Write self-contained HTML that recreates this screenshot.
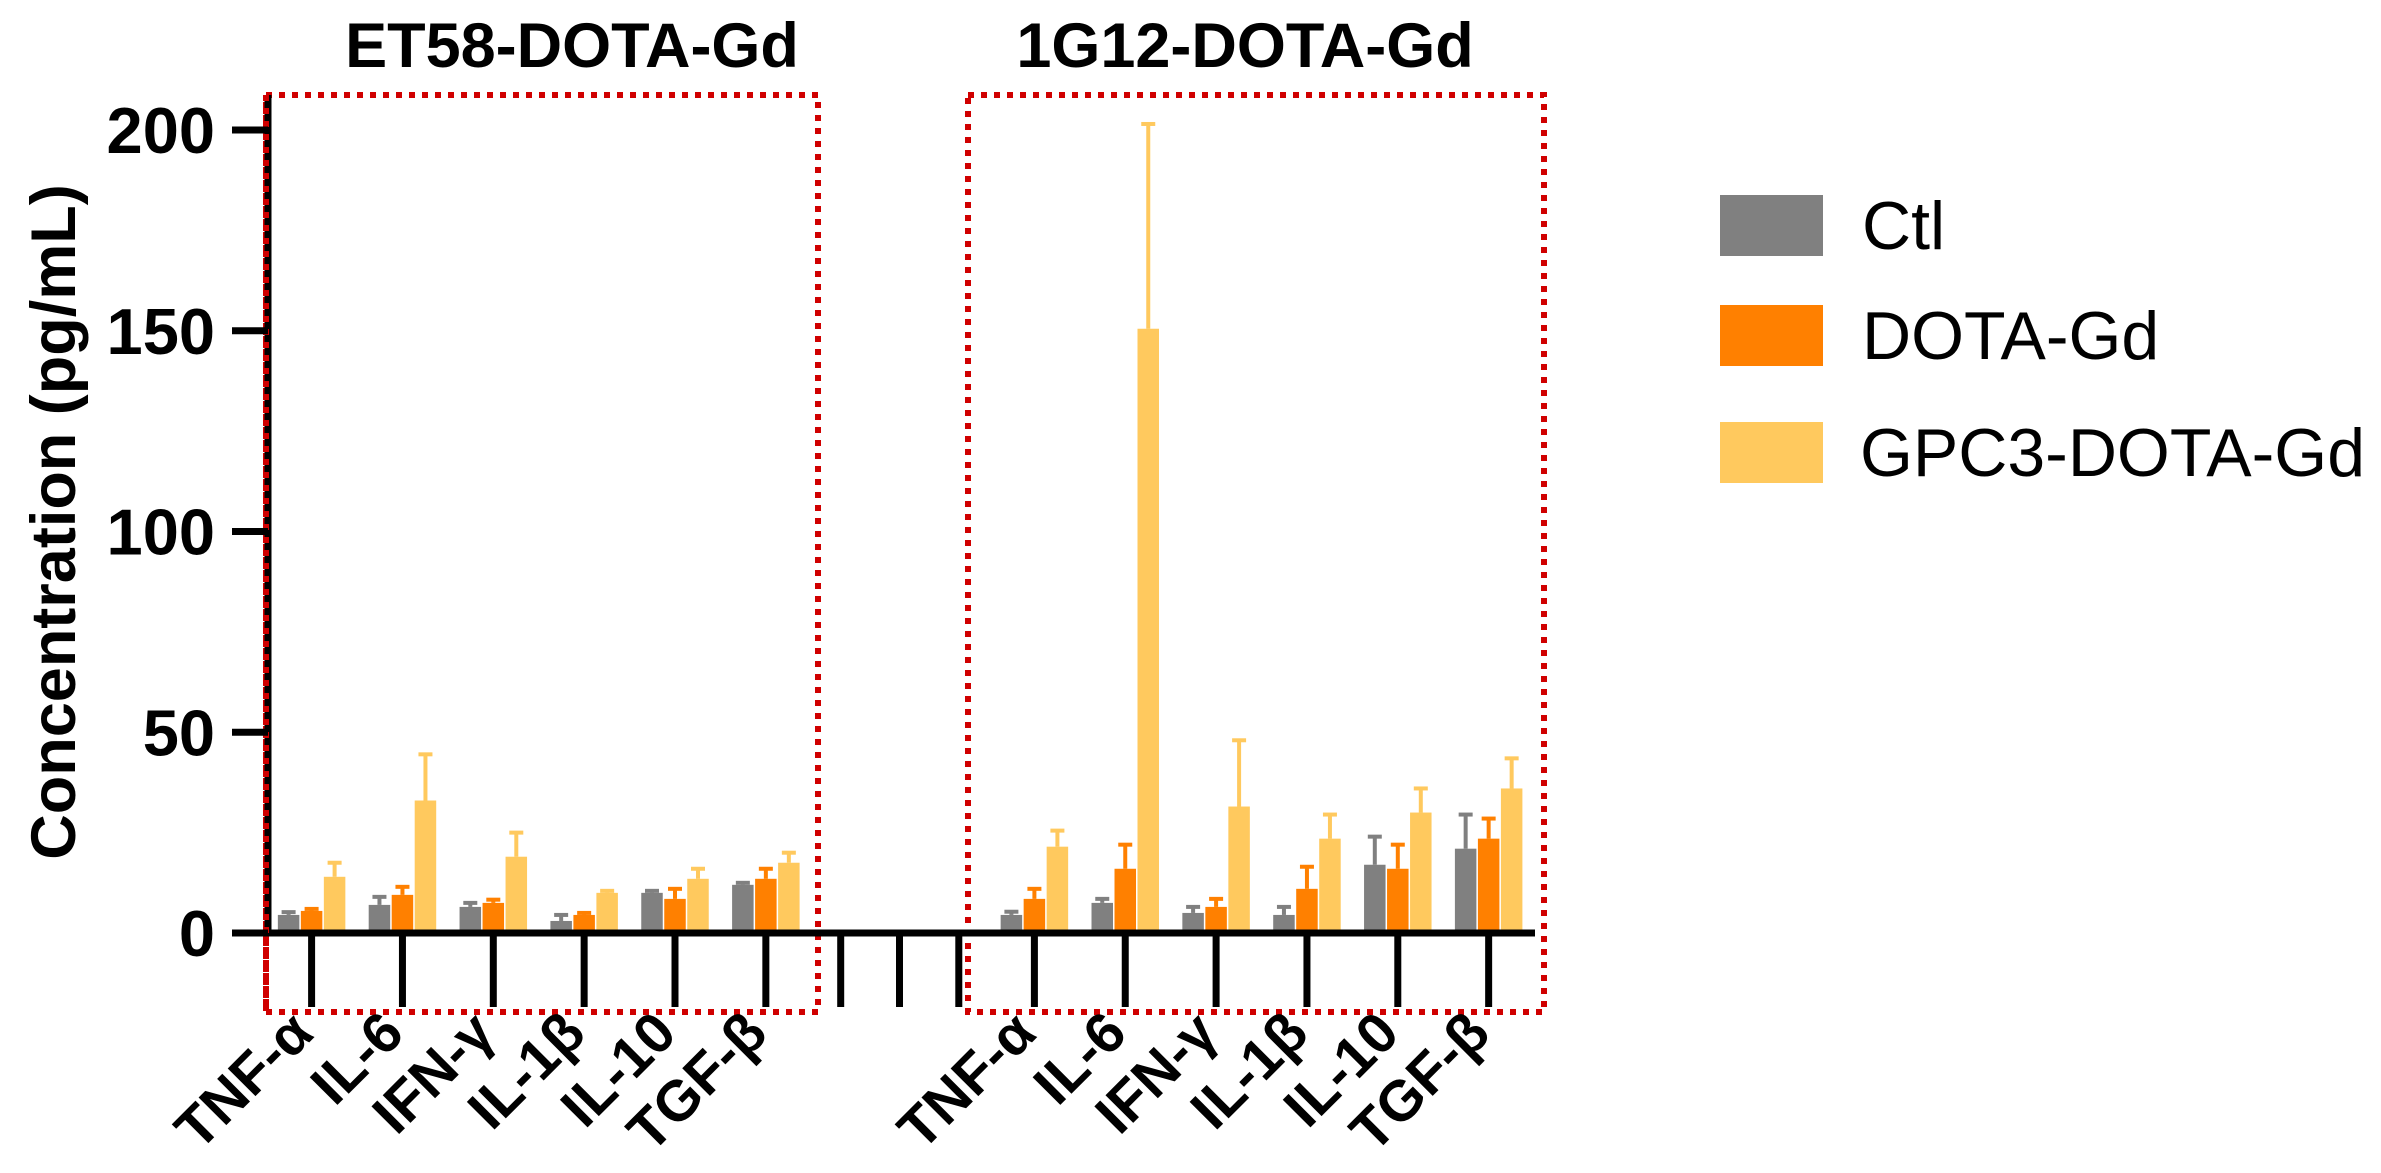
<!DOCTYPE html>
<html><head><meta charset="utf-8">
<style>
html,body{margin:0;padding:0;background:#fff;}
svg{display:block;font-family:"Liberation Sans",Arial,sans-serif;}
</style></head>
<body>
<svg id="chart" width="2381" height="1173" viewBox="0 0 2381 1173" xmlns="http://www.w3.org/2000/svg">
  <g id="boxes"></g>
  <g id="bars"></g>
  <g id="axes"></g>
  <g id="labels"></g>
  <text x="572" y="67" font-size="63" font-weight="bold" text-anchor="middle">ET58-DOTA-Gd</text>
  <text x="1245" y="67" font-size="63" font-weight="bold" text-anchor="middle">1G12-DOTA-Gd</text>
  <text transform="translate(75,522) rotate(-90)" font-size="63" font-weight="bold" text-anchor="middle">Concentration (pg/mL)</text>
  <g>
    <rect x="1720" y="195" width="103" height="61" fill="#808080"/>
    <text x="1862" y="249" font-size="68">Ctl</text>
    <rect x="1720" y="305" width="103" height="61" fill="#FF8000"/>
    <text x="1862" y="359" font-size="68">DOTA-Gd</text>
    <rect x="1720" y="422" width="103" height="61" fill="#FFC95E"/>
    <text x="1860" y="476" font-size="68">GPC3-DOTA-Gd</text>
  </g>
</svg>
<script>
// ---- data ----
const categories = ["TNF-α","IL-6","IFN-γ","IL-1β","IL-10","TGF-β"];
const groups = ["ET58-DOTA-Gd","1G12-DOTA-Gd"];
const seriesNames = ["Ctl","DOTA-Gd","GPC3-DOTA-Gd"];
// values [group][category]
const ctlMean = [[4.5,7,6.5,3,10,12],[4.5,7.5,5,4.5,17,21]];
const ctlErr  = [[0.7,2,1,1.5,0.5,0.5],[0.8,1,1.5,2,7,8.5]];
const dotaMean = [[5.5,9.5,7.5,4.5,8.5,13.5],[8.5,16,6.5,11,16,23.5]];
const dotaErr  = [[0.5,2,0.8,0.5,2.5,2.5],[2.5,6,2,5.5,6,5]];
const gpcMean = [[14,33,19,10,13.5,17.5],[21.5,150.5,31.5,23.5,30,36]];
const gpcErr  = [[3.5,11.5,6,0.5,2.5,2.5],[4,51,16.5,6,6,7.5]];
const yTicks = [0,50,100,150,200];

const colors = ["#808080","#FF8000","#FFC95E"];
const NS = "http://www.w3.org/2000/svg";
function mk(tag, attrs, parent){const e=document.createElementNS(NS,tag);for(const k in attrs)e.setAttribute(k,attrs[k]);parent.appendChild(e);return e;}

// ---- axis functions ----
const y0 = 933, pxPerUnit = 4.015;
function yScale(v){return y0 - v*pxPerUnit;}
const groupStart = [311.6, 1034.4], catStep = 90.85;
function xScale(g,i){return groupStart[g] + catStep*i;}
const gapTicks = [840.7, 899.5, 958.8];
const barW = 21.5, barOff = 23;

const boxes = document.getElementById("boxes");
const bars = document.getElementById("bars");
const axes = document.getElementById("axes");
const labels = document.getElementById("labels");

const b1 = mk("rect",{x:266,y:95,width:552,height:917,fill:"none",stroke:"#D00000","stroke-width":6,"stroke-dasharray":"6 7"},boxes);


const b2 = mk("rect",{x:968,y:95,width:576,height:917,fill:"none",stroke:"#D00000","stroke-width":6,"stroke-dasharray":"6 7"},boxes);



const means=[ctlMean,dotaMean,gpcMean], errs=[ctlErr,dotaErr,gpcErr];
for(let g=0;g<groups.length;g++){
  for(let i=0;i<categories.length;i++){
    for(let s=0;s<3;s++){
      const cx = xScale(g,i) + (s-1)*barOff;
      const m = means[s][g][i], e = errs[s][g][i];
      const top = yScale(m+e);
      const ln = mk("line",{x1:cx,x2:cx,y1:yScale(m),y2:top,stroke:colors[s],"stroke-width":4},bars);
      
      
      const cap = mk("line",{x1:cx-7,x2:cx+7,y1:top,y2:top,stroke:colors[s],"stroke-width":4},bars);
      
      
      const r = mk("rect",{x:cx-barW/2,y:yScale(m),width:barW,height:y0-yScale(m),fill:colors[s]},bars);
      
      
    }
  }
}

const ya = mk("line",{x1:268,x2:268,y1:95,y2:936.5,stroke:"#000","stroke-width":7},axes);


const xa = mk("line",{x1:232,x2:1535,y1:y0,y2:y0,stroke:"#000","stroke-width":7},axes);


const ld = mk("line",{x1:266,x2:266,y1:95,y2:1012,stroke:"#D00000","stroke-width":6,"stroke-dasharray":"6 7"},axes);



yTicks.forEach(v=>{
  const t = mk("line",{x1:232,x2:268,y1:yScale(v),y2:yScale(v),stroke:"#000","stroke-width":7},axes);
  
  
  const tx = mk("text",{x:215,y:yScale(v)+23,"font-size":65,"font-weight":"bold","text-anchor":"end"},labels);
  tx.textContent = v;
  
  
});
for(let g=0;g<groups.length;g++){
  for(let i=0;i<categories.length;i++){
    const x = xScale(g,i);
    const t = mk("line",{x1:x,x2:x,y1:y0,y2:1007,stroke:"#000","stroke-width":7},axes);
    
    
    const tx = mk("text",{transform:`translate(${x+4},${1036}) rotate(-45)`,"font-size":57,"font-weight":"bold","text-anchor":"end"},labels);
    tx.textContent = categories[i];
    
    
  }
}
gapTicks.forEach(x=>{
  const t = mk("line",{x1:x,x2:x,y1:y0,y2:1007,stroke:"#000","stroke-width":7},axes);
  
  
});
</script>
</body></html>
